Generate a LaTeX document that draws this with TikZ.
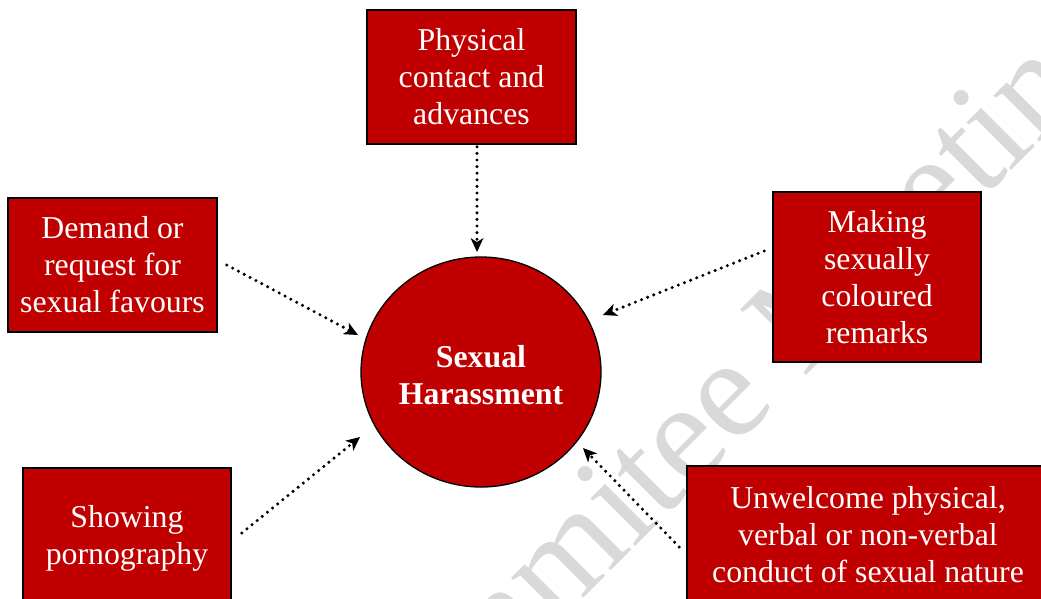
\documentclass[tikz,border=0pt]{standalone}
\usepackage{fontspec}
\setmainfont{Liberation Serif}
\usetikzlibrary{shapes.geometric,arrows.meta,calc}
\definecolor{boxred}{HTML}{C00000}
\definecolor{wmgray}{RGB}{217,217,217}
\tikzset{
  catbox/.style={draw=black, line width=1.6pt, fill=boxred, text=white, align=center,
    inner sep=0pt, font=\fontsize{31.8}{37}\selectfont},
  hub/.style={ellipse, draw=black, line width=1.3pt, fill=boxred, text=white, align=center,
    inner sep=0pt, minimum width=240pt, minimum height=230pt,
    font=\fontsize{31.8}{37}\selectfont\bfseries},
  arr/.style={line width=3.4pt, dash pattern=on 0pt off 6.6pt, line cap=round,
    -{Stealth[length=14pt, width=13pt, inset=4pt, line width=0pt]}},
  wm/.style={text=wmgray, font=\fontsize{142}{150}\selectfont, inner sep=0pt, anchor=base west, rotate=45}
}
\begin{document}
\begin{tikzpicture}[x=1pt, y=-1pt]
\useasboundingbox (0,0) rectangle (1041,598);
\begin{scope}
\clip (0,0) rectangle (1041,598);
\node[wm] (wmark) at (360,822) {Commitee Meeting};
\end{scope}

\node[catbox, minimum width=209pt, minimum height=134pt] (top) at (471.5,77) {Physical\\contact and\\advances};
\node[catbox, minimum width=209pt, minimum height=134pt] (left) at (112.5,265) {Demand or\\request for\\sexual favours};
\node[catbox, minimum width=208pt, minimum height=170pt] (right) at (877,277) {Making\\sexually\\coloured\\remarks};
\node[catbox, minimum width=208pt, minimum height=140pt] (bl) at (127,538) {Showing\\pornography};
\node[catbox, minimum width=362pt, minimum height=138pt] (br) at (868,535) {Unwelcome physical,\\verbal or non-verbal\\conduct of sexual nature};
\node[hub] (c) at (481,372) {\begin{tabular}{@{}c@{}}\rule{0pt}{40pt}Sexual\\Harassment\end{tabular}};

\draw[arr] ($(top.south)+(5.5,2)$) -- ($(c.center)+(-4,-120)$);
\draw[arr] ($(left.east)+(9,0)$) -- ($(c.center)+(-123,-37)$);
\draw[arr] ($(right.west)+(-8,-26)$) -- ($(c.center)+(122,-57)$);
\draw[arr] ($(bl.east)+(10,-5)$) -- ($(c.center)+(-121,65)$);
\draw[arr] ($(br.west)+(-7,12)$) -- ($(c.center)+(102,76)$);
\end{tikzpicture}
\end{document}
